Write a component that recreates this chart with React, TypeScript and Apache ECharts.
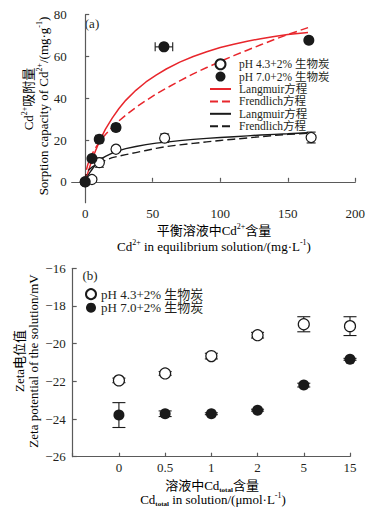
import React, { useEffect, useRef } from 'react';
import * as echarts from 'echarts';

const FONT = "'Liberation Serif', 'Times New Roman', 'Noto Sans CJK SC', serif";
const TEXT = '#231f20';
const AXIS = '#5a5a5a';
const RED = '#e8262c';
const BLACK = '#1a1a1a';

// ---------- (a) adsorption isotherm ----------
const nameOpen = 'pH 4.3+2% 生物炭';
const nameFilled = 'pH 7.0+2% 生物炭';
const nameRedL = 'Langmuir方程';
const nameRedF = 'Frendlich方程';
const nameBlkL = 'Langmuir方程 ';
const nameBlkF = 'Frendlich方程 ';

const openX = [0, 5, 10.5, 22.8, 58.8, 167.3];
const openY = [0, 1.1, 9.2, 15.6, 20.9, 21.2];
const openXErr = [0, 0, 0, 0, 0, 0];
const openYErr = [0, 0.4, 2.2, 0.6, 2.0, 2.6];

const filledX = [0, 5, 10.4, 22.8, 58.3, 165.6];
const filledY = [0, 11.2, 20.4, 26.0, 64.6, 67.8];
const filledXErr = [0, 1.2, 2.5, 2.2, 6.5, 1.0];
const filledYErr = [0, 0.8, 1.0, 1.2, 1.0, 0.8];

const curveX = [0, 0.5, 1, 2, 3.5, 5, 7.5, 10, 12.5, 15, 20, 25, 30, 37.5, 45, 52.5, 60, 70, 80, 90, 100, 110, 120, 130, 140, 150, 165];
const redLangmuir = [0, 1.15, 2.3, 4.4, 7.4, 10.3, 14.6, 18.5, 22.0, 25.2, 30.5, 35.1, 39.0, 43.8, 47.8, 51.1, 54.0, 57.3, 60.0, 62.3, 64.3, 65.9, 67.3, 68.5, 69.6, 70.5, 71.5];
const redFrendlich = [0, 4.3, 6.0, 8.4, 11.1, 13.2, 16.1, 18.6, 20.7, 22.6, 26.1, 29.2, 31.9, 35.6, 38.9, 42.0, 44.8, 48.3, 51.7, 54.7, 57.6, 60.4, 63.0, 65.6, 68.1, 70.5, 73.8];
const blkLangmuir = [0, 0.8, 1.6, 2.9, 4.5, 5.9, 8.1, 9.9, 11.2, 12.2, 13.7, 14.9, 15.9, 16.9, 17.8, 18.5, 19.0, 19.7, 20.3, 20.8, 21.2, 21.6, 22.0, 22.4, 22.7, 23.0, 23.5];
const blkFrendlich = [0, 3.3, 4.2, 5.3, 6.2, 7.0, 8.0, 8.9, 9.6, 10.3, 11.6, 12.3, 13.0, 14.0, 15.0, 16.0, 16.9, 17.7, 18.4, 19.1, 19.8, 20.4, 21.0, 21.6, 22.2, 22.7, 23.3];

// ---------- (b) zeta potential ----------
const zetaCats = ['0', '0.5', '1', '2', '5', '15'];
const zetaOpen = [-21.95, -21.58, -20.66, -19.55, -18.97, -19.07];
const zetaOpenErr = [0.12, 0.1, 0.15, 0.15, 0.4, 0.5];
const zetaFilled = [-23.79, -23.72, -23.72, -23.53, -22.2, -20.83];
const zetaFilledErr = [0.66, 0.15, 0.05, 0.05, 0.1, 0.05];

const zip = (xs: any[], ys: number[]) => xs.map((x, i) => [x, ys[i]]);

const errRender = (cap: number) => (params: any, api: any) => {
  const x = api.value(0);
  const y = api.value(1);
  const ex = api.value(2);
  const ey = api.value(3);
  const style = { stroke: BLACK, lineWidth: 1.1, fill: 'none' };
  const children: any[] = [];
  if (ey > 0) {
    const t = api.coord([x, y + ey]);
    const b = api.coord([x, y - ey]);
    children.push({ type: 'line', shape: { x1: t[0], y1: t[1], x2: b[0], y2: b[1] }, style });
    children.push({ type: 'line', shape: { x1: t[0] - cap, y1: t[1], x2: t[0] + cap, y2: t[1] }, style });
    children.push({ type: 'line', shape: { x1: b[0] - cap, y1: b[1], x2: b[0] + cap, y2: b[1] }, style });
  }
  if (ex > 0) {
    const l = api.coord([x - ex, y]);
    const r = api.coord([x + ex, y]);
    children.push({ type: 'line', shape: { x1: l[0], y1: l[1], x2: r[0], y2: r[1] }, style });
    children.push({ type: 'line', shape: { x1: l[0], y1: l[1] - cap, x2: l[0], y2: l[1] + cap }, style });
    children.push({ type: 'line', shape: { x1: r[0], y1: r[1] - cap, x2: r[0], y2: r[1] + cap }, style });
  }
  return { type: 'group', children };
};

const rich = {
  n: { fontFamily: FONT, fontSize: 13, color: TEXT, lineHeight: 16 },
  sup: { fontFamily: FONT, fontSize: 8, color: TEXT, lineHeight: 9, verticalAlign: 'top' },
  sub: { fontFamily: FONT, fontSize: 7, color: TEXT, lineHeight: 8, verticalAlign: 'bottom', fontWeight: 'bold' },
};

const title = (x: number, y: number, text: string, rotated = false) => ({
  type: 'text',
  x,
  y,
  rotation: rotated ? Math.PI / 2 : 0,
  style: { text, rich, align: 'center', verticalAlign: 'middle' },
});

const noSymbol = { color: 'rgba(0,0,0,0)', borderWidth: 0, opacity: 0 };

export default function App() {
  const ref = useRef<HTMLDivElement>(null);
  useEffect(() => {
    if (!ref.current) return;
    const chart = echarts.init(ref.current, undefined, { renderer: 'svg' });
    const axisLabel = { fontFamily: FONT, fontSize: 13, color: TEXT };
    const axisLine = { show: true, lineStyle: { color: AXIS, width: 1.2 } };
    const axisTick = { show: true, inside: true, length: 4, lineStyle: { color: AXIS, width: 1.2 } };
    const legendText = { fontFamily: FONT, fontSize: 11.5, color: TEXT };
    const lineCommon = { symbol: 'none', showSymbol: false, smooth: false, z: 2 };
    const option: any = {
      animation: false,
      backgroundColor: '#fff',
      grid: [
        { left: 71.7, top: 14.7, width: 283.6, height: 188 },
        { left: 72.7, top: 268.3, width: 277.3, height: 188.4 },
      ],
      xAxis: [
        {
          gridIndex: 0, type: 'value', min: -10, max: 200,
          axisLine, axisTick, splitLine: { show: false },
          axisLabel: { ...axisLabel, margin: 4, showMinLabel: false },
        },
        {
          gridIndex: 1, type: 'category', data: [' ', ...zetaCats], boundaryGap: false,
          axisLine, axisTick, splitLine: { show: false },
          axisLabel: { ...axisLabel, margin: 4, interval: 0 },
        },
      ],
      yAxis: [
        {
          gridIndex: 0, type: 'value', min: -10, max: 80,
          axisLine, axisTick, splitLine: { show: false },
          axisLabel: { ...axisLabel, margin: 5, showMinLabel: false },
        },
        {
          gridIndex: 1, type: 'value', min: -26, max: -16, interval: 2,
          axisLine, axisTick, splitLine: { show: false },
          axisLabel: { ...axisLabel, margin: 7, formatter: (v: number) => String(v).replace('-', '\u2212') },
        },
      ],
      legend: [
        {
          orient: 'vertical', left: 209, top: 58, padding: 0,
          itemWidth: 21, itemHeight: 10, itemGap: 0, selectedMode: false,
          data: [
            nameOpen,
            nameFilled,
            { name: nameRedL, itemStyle: noSymbol },
            { name: nameRedF, itemStyle: noSymbol },
            { name: nameBlkL, itemStyle: noSymbol },
            { name: nameBlkF, itemStyle: noSymbol },
          ],
          formatter: (n: string) => n.trim(),
          textStyle: { ...legendText, lineHeight: 12.4, padding: [0, 0, 0, 3] },
        },
        {
          orient: 'vertical', left: 85, top: 287.4, padding: 0,
          itemWidth: 10, itemHeight: 10, itemGap: 0, selectedMode: false,
          data: [nameOpen + ' ', nameFilled + ' '],
          formatter: (n: string) => n.trim(),
          textStyle: { ...legendText, fontSize: 13, lineHeight: 13.5 },
        },
      ],
      graphic: [
        { type: 'text', x: 92, y: 23.5, style: { text: '(a)', font: `13px ${FONT}`, fill: TEXT, align: 'center', verticalAlign: 'middle' } },
        { type: 'text', x: 90, y: 275, style: { text: '(b)', font: `13px ${FONT}`, fill: TEXT, align: 'center', verticalAlign: 'middle' } },
        title(214, 230, '{n|平衡溶液中Cd}{sup|2+}{n|含量}'),
        title(214, 246.7, '{n|Cd}{sup|2+}{n| in equilibrium solution/(mg·L}{sup|-1}{n|)}'),
        title(28, 99, '{n|Cd}{sup|2+}{n|吸附量}', true),
        title(43, 106, '{n|Sorption capacity of Cd}{sup|2+}{n|/(mg·g}{sup|-1}{n|)}', true),
        title(19, 361, '{n|Zeta电位值}', true),
        title(33, 361, '{n|Zeta potential of the solution/mV}', true),
        title(212, 485, '{n|溶液中Cd}{sub|total}{n|含量}'),
        title(213, 499.5, '{n|Cd}{sub|total}{n| in solution/(μmol·L}{sup|-1}{n|)}'),
      ],
      series: [
        {
          ...lineCommon, type: 'line', name: nameRedL, xAxisIndex: 0, yAxisIndex: 0, data: zip(curveX, redLangmuir),
          lineStyle: { color: RED, width: 1.5, type: 'solid' }, itemStyle: { color: RED },
        },
        {
          ...lineCommon, type: 'line', name: nameRedF, xAxisIndex: 0, yAxisIndex: 0, data: zip(curveX, redFrendlich),
          lineStyle: { color: RED, width: 1.5, type: [8, 4] }, itemStyle: { color: RED },
        },
        {
          ...lineCommon, type: 'line', name: nameBlkL, xAxisIndex: 0, yAxisIndex: 0, data: zip(curveX, blkLangmuir),
          lineStyle: { color: BLACK, width: 1.4, type: 'solid' }, itemStyle: { color: BLACK },
        },
        {
          ...lineCommon, type: 'line', name: nameBlkF, xAxisIndex: 0, yAxisIndex: 0, data: zip(curveX, blkFrendlich),
          lineStyle: { color: BLACK, width: 1.4, type: [8, 4] }, itemStyle: { color: BLACK },
        },
        {
          type: 'custom', xAxisIndex: 0, yAxisIndex: 0, renderItem: errRender(4.5), z: 3,
          data: openX.map((x, i) => [x, openY[i], openXErr[i], openYErr[i]]),
        },
        {
          type: 'custom', xAxisIndex: 0, yAxisIndex: 0, renderItem: errRender(4.5), z: 3,
          data: filledX.map((x, i) => [x, filledY[i], filledXErr[i], filledYErr[i]]),
        },
        {
          type: 'scatter', name: nameOpen, xAxisIndex: 0, yAxisIndex: 0, data: zip(openX, openY),
          symbol: 'circle', symbolSize: 10,
          itemStyle: { color: '#fff', borderColor: BLACK, borderWidth: 1.2, opacity: 1 }, z: 4,
        },
        {
          type: 'scatter', name: nameFilled, xAxisIndex: 0, yAxisIndex: 0, data: zip(filledX, filledY),
          symbol: 'circle', symbolSize: 11,
          itemStyle: { color: BLACK, opacity: 1 }, z: 5,
        },
        // (b)
        {
          type: 'custom', xAxisIndex: 1, yAxisIndex: 1, renderItem: errRender(6.5), z: 3,
          data: zetaCats.map((c, i) => [c, zetaOpen[i], 0, zetaOpenErr[i]]),
        },
        {
          type: 'custom', xAxisIndex: 1, yAxisIndex: 1, renderItem: errRender(6.5), z: 3,
          data: zetaCats.map((c, i) => [c, zetaFilled[i], 0, zetaFilledErr[i]]),
        },
        {
          type: 'scatter', name: nameOpen + ' ', xAxisIndex: 1, yAxisIndex: 1, data: zip(zetaCats, zetaOpen),
          symbol: 'circle', symbolSize: 11,
          itemStyle: { color: '#fff', borderColor: BLACK, borderWidth: 1.2, opacity: 1 }, z: 4,
        },
        {
          type: 'scatter', name: nameFilled + ' ', xAxisIndex: 1, yAxisIndex: 1, data: zip(zetaCats, zetaFilled),
          symbol: 'circle', symbolSize: 11,
          itemStyle: { color: BLACK, opacity: 1 }, z: 5,
        },
      ],
    };
    chart.setOption(option);
    return () => chart.dispose();
  }, []);
  return <div ref={ref} style={{ position: 'absolute', left: 0, top: 0, width: 384, height: 513, background: '#fff' }} />;
}
